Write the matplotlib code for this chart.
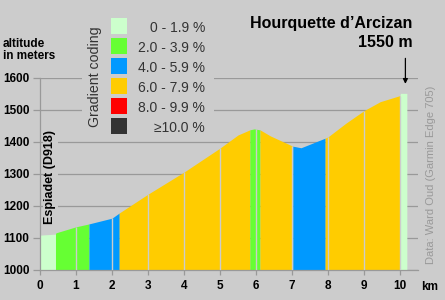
import matplotlib
matplotlib.use("Agg")
import matplotlib.pyplot as plt
from matplotlib.patches import Rectangle
import numpy as np

plt.rcParams['font.family'] = ['Liberation Sans', 'DejaVu Sans']

# profile (km, metres)
km = np.array([0.0, 0.43, 0.44, 1.0, 1.36, 2.0, 2.2, 3.0, 4.0, 5.0, 5.5, 5.83, 5.95,
               6.11, 6.4, 7.02, 7.25, 7.92, 8.0, 8.5, 9.0, 9.45, 10.0, 10.01, 10.19])
elev = np.array([1109, 1112, 1116, 1135, 1144, 1162, 1178, 1237, 1306, 1381, 1422, 1438, 1441,
                 1438, 1419, 1387, 1382, 1412, 1416, 1459, 1498, 1526, 1545, 1552, 1552])

# gradient class of each stretch
seg_breaks = [0.0, 0.43, 1.36, 2.2, 5.83, 6.11, 7.02, 7.92, 10.0, 10.19]
seg_class = [0, 1, 2, 3, 1, 3, 2, 3, 0]

class_labels = ["0 - 1.9 %", "2.0 - 3.9 %", "4.0 - 5.9 %", "6.0 - 7.9 %", "8.0 - 9.9 %", "\u226510.0 %"]
class_colors = ["#ccffcc", "#66ff33", "#0099ff", "#ffcc00", "#ff0000", "#333333"]

x_ticks = list(range(0, 11))
y_ticks = [1000, 1100, 1200, 1300, 1400, 1500, 1600]

BG = "#cccccc"
GRID = "#999999"
W, H = 445, 300

fig = plt.figure(figsize=(W / 100, H / 100), dpi=100, facecolor=BG)
ax = fig.add_axes([40 / W, 30 / H, 378 / W, 192 / H], facecolor=BG)


def fx(px):
    return px / W


def fy(py):
    return 1 - py / H


# coloured profile
for a, b, c in zip(seg_breaks[:-1], seg_breaks[1:], seg_class):
    m = (km >= a) & (km <= b)
    ax.fill_between(km[m], elev[m], 1000, color=class_colors[c], lw=0, zorder=2)

# gaps at each km inside the profile
for k in x_ticks[1:]:
    ax.vlines(k, 1000, np.interp(k, km, elev), color=BG, lw=1.0, zorder=3)

ax.set_xlim(0, 10.5)
ax.set_ylim(1000, 1600)
ax.set_xticks(x_ticks)
ax.set_yticks(y_ticks)
ax.yaxis.grid(True, color=GRID, lw=0.9, zorder=0)
ax.set_axisbelow(True)
for s in ["top", "right"]:
    ax.spines[s].set_visible(False)
for s in ["left", "bottom"]:
    ax.spines[s].set_color(GRID)
    ax.spines[s].set_linewidth(0.9)
ax.tick_params(axis='y', length=4.8, width=0.9, color=GRID, pad=2.8, labelsize=8.5, labelcolor='black')
ax.tick_params(axis='x', length=3.6, width=0.9, color=GRID, pad=3.3, labelsize=8.5, labelcolor='black')
for t in ax.get_xticklabels() + ax.get_yticklabels():
    t.set_fontweight('bold')

# arrow to the pass
ax.annotate('', xy=(10.15, 1573), xytext=(10.15, 1670),
            arrowprops=dict(arrowstyle='-|>', color='black', lw=0.9, mutation_scale=7),
            annotation_clip=False)

# legend block
fig.patches.append(Rectangle((fx(82), fy(138)), fx(132), 128 / H, transform=fig.transFigure,
                             facecolor=BG, edgecolor='none', zorder=1))
fig.text(fx(95), fy(76.5), "Gradient coding", rotation=90, ha='center', va='center',
         fontsize=10.2, color='#333333')
for i, (lab, col) in enumerate(zip(class_labels, class_colors)):
    top = 18 + 20 * i
    fig.patches.append(Rectangle((fx(111), fy(top + 16)), fx(16), 16 / H, transform=fig.transFigure,
                                 facecolor=col, edgecolor='none', zorder=2))
    fig.text(fx(205), fy(32.3 + 20 * i), lab, ha='right', va='baseline', fontsize=10,
             color='#333333')

# texts
fig.text(fx(2.7), fy(46.7), "altitude", ha='left', va='baseline', fontsize=8.5, fontweight='bold')
fig.text(fx(2.7), fy(59.3), "in meters", ha='left', va='baseline', fontsize=8.5, fontweight='bold')
fig.text(fx(412.7), fy(28.3), "Hourquette d\u2019Arcizan", ha='right', va='baseline', fontsize=11.5,
         fontweight='bold')
fig.text(fx(412.7), fy(46.7), "1550 m", ha='right', va='baseline', fontsize=11.5, fontweight='bold')
fig.text(fx(421.5), fy(290), "km", ha='left', va='baseline', fontsize=8.5, fontweight='bold')
fig.text(fx(50.5), fy(224), "Espiadet (D918)", rotation=90, ha='center', va='bottom', fontsize=9,
         fontweight='bold', bbox=dict(facecolor=BG, edgecolor='none', pad=1.0))
fig.text(fx(431), fy(175), "Data: Ward Oud (Garmin Edge 705)", rotation=90, ha='center', va='center',
         fontsize=8, color='#999999')

fig.savefig("out.png", dpi=100, facecolor=BG)
